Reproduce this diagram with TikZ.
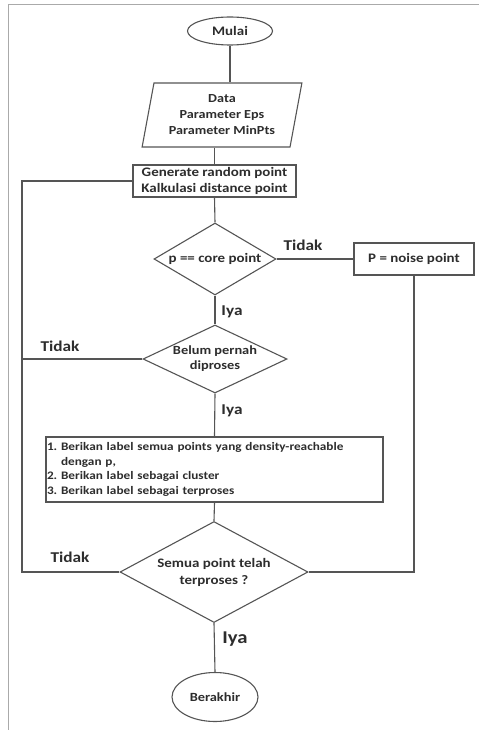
\documentclass[tikz,border=0pt]{standalone}
\usepackage{fontspec}
\setmainfont{Carlito}[FakeStretch=1.15]
\usetikzlibrary{shapes.geometric}
\definecolor{ln}{RGB}{85,85,85}
\definecolor{tx}{RGB}{45,45,45}
\definecolor{fr}{RGB}{170,170,170}
\newcommand{\fsz}[2]{\fontsize{#1}{#2}\selectfont\bfseries\frenchspacing}
\begin{document}
\begin{tikzpicture}[x=1pt,y=-1pt,line width=1.1pt,
  every node/.style={text=tx},
  shp/.style={draw=ln,fill=white,inner sep=0pt,align=center,font=\fsz{13}{16}},
  term/.style={shp,ellipse},
  procbox/.style={shp,rectangle},
  dec/.style={shp,diamond},
  io/.style={shp,trapezium,trapezium left angle=77,trapezium right angle=103,trapezium stretches=true},
  conn/.style={draw=ln},
  lbl/.style={font=\fsz{15}{18},inner sep=0pt}
]
\useasboundingbox (0,0) rectangle (479,730);
\draw[fr,line width=1pt] (8,730) -- (8,5) -- (479,5);

\node[term,minimum width=85,minimum height=28] (mulai) at (230,31) {Mulai};
\node[io,minimum width=160,minimum height=64,font=\fsz{12.3}{16}] (data) at (222,115) {Data\\Parameter Eps\\Parameter MinPts};
\node[procbox,minimum width=163,minimum height=32] (gen) at (214.5,181) {Generate random point\\Kalkulasi distance point};
\node[dec,minimum width=122,minimum height=72,aspect=1.7,font=\fsz{13}{15}] (d1) at (215,259) {p == core point};
\node[procbox,minimum width=120,minimum height=32] (noise) at (414,259) {P = noise point};
\node[dec,minimum width=144,minimum height=68,aspect=2.1,font=\fsz{12.5}{15}] (d2) at (215,359) {Belum pernah\\diproses};
\node[procbox,minimum width=337,minimum height=65,text width=335,align=left,font=\fsz{11.5}{14.7}] (proc) at (214.5,469.5)
  {\mbox{1. Berikan label semua points yang density-reachable}\\\hphantom{1. }dengan p,\\2. Berikan label sebagai cluster\\3. Berikan label sebagai terproses};
\node[dec,minimum width=188,minimum height=101,aspect=1.86,font=\fsz{13}{17}] (d3) at (214,572) {Semua point telah\\terproses ?};
\node[term,minimum width=86,minimum height=49,font=\fsz{12.5}{15}] (end) at (215,697) {Berakhir};

\coordinate (lx) at (22,0);

\draw[conn] (mulai.south) -- (mulai.south |- data.north);
\draw[conn] (gen.north |- data.south) -- (gen.north);
\draw[conn] (gen.south) -- (d1.north);
\draw[conn] (d1.south) -- (d2.north);
\draw[conn] (d2.south) -- (proc.north);
\draw[conn] (proc.south) -- (d3.north);
\draw[conn] (d3.south) -- (end.north);
\draw[conn] (d1.east) -- (noise.west);
\draw[conn] (noise.south) -- (noise.south |- d3.east) -- (d3.east);
\draw[conn] (gen.west) -- (gen.west -| lx) -- (d3.west -| lx) -- (d3.west);
\draw[conn] (d2.west) -- (d2.west -| lx);

\node[lbl] (t1) at (303,245) {Tidak};
\node[lbl] (t2) at (60,346) {Tidak};
\node[lbl] (t3) at (70,557) {Tidak};
\node[lbl] (i1) at (232,312) {Iya};
\node[lbl] (i2) at (232,411) {Iya};
\node[lbl,font=\fsz{18}{20}] (i3) at (235,639) {Iya};
\end{tikzpicture}
\end{document}
